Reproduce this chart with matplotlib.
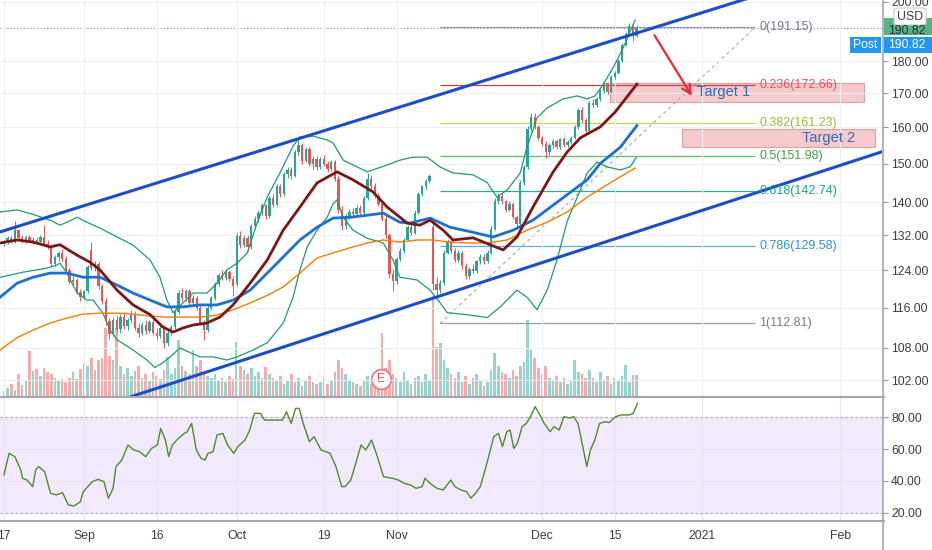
import numpy as np
import matplotlib.pyplot as plt
from matplotlib.patches import Rectangle, FancyBboxPatch
from matplotlib.ticker import FixedLocator, NullLocator, FuncFormatter

plt.rcParams['font.family'] = ['Liberation Sans', 'DejaVu Sans']

# ---- 4h candles, bar 0 = 17 Aug 2020 (two bars per trading day) ----
opens = [130.0, 130.6, 131.3, 130.5, 133.2, 131.4, 130.8, 131.5, 130.7, 131.0,
         130.4, 131.6, 130.0, 129.4, 125.5, 127.0, 127.8, 126.5, 124.0, 121.5,
         122.0, 119.3, 118.2, 119.5, 128.5, 124.6, 125.4, 120.6, 117.4, 113.3,
         110.8, 113.6, 111.8, 114.2, 112.4, 113.5, 114.8, 112.0, 110.9, 112.6,
         111.4, 113.1, 111.0, 110.4, 112.0, 108.9, 111.0, 112.2, 115.2, 119.0,
         118.0, 119.5, 117.0, 118.0, 116.0, 113.0, 111.6, 116.0, 118.0, 121.0,
         123.0, 122.4, 123.6, 122.2, 121.0, 131.8, 129.8, 131.4, 129.2, 134.2,
         136.0, 137.4, 139.2, 136.6, 141.0, 139.4, 144.0, 142.0, 147.2, 148.4,
         146.8, 153.0, 155.0, 150.8, 154.0, 150.0, 151.2, 149.0, 151.2, 150.0,
         148.6, 150.4, 146.0, 138.2, 134.2, 136.5, 137.5, 137.0, 138.6, 137.4,
         141.0, 146.0, 144.2, 141.6, 139.6, 136.0, 132.0, 123.2, 121.6, 126.5,
         128.4, 131.0, 134.0, 132.6, 137.4, 142.0, 144.0, 145.4, 134.0, 121.0,
         119.8, 121.2, 128.0, 130.6, 128.4, 126.4, 128.0, 125.0, 122.8, 124.4,
         123.8, 126.0, 127.0, 126.0, 128.0, 133.6, 140.2, 141.6, 140.2, 138.2,
         139.6, 136.4, 134.6, 145.0, 149.0, 159.6, 163.0, 160.0, 157.0, 155.4,
         153.0, 155.0, 156.0, 154.4, 156.6, 155.0, 155.8, 157.0, 160.0, 165.0,
         162.0, 159.0, 167.2, 166.4, 168.2, 170.6, 173.0, 170.4, 175.0, 176.2,
         180.2, 185.2, 189.0, 191.6, 188.4]
highs = [131.0, 131.8, 131.8, 135.5, 133.6, 132.0, 131.8, 132.0, 131.5, 131.6,
         132.0, 134.5, 130.8, 129.8, 127.5, 128.3, 128.8, 127.2, 124.5, 122.8,
         122.3, 120.0, 119.8, 125.3, 130.5, 126.0, 125.8, 121.0, 118.0, 114.0,
         114.2, 114.5, 114.8, 115.2, 114.0, 115.5, 115.3, 113.0, 113.2, 113.5,
         113.6, 113.8, 112.0, 112.6, 112.5, 111.5, 112.6, 115.6, 119.8, 120.2,
         120.0, 119.9, 118.6, 118.4, 116.5, 113.5, 116.5, 118.5, 121.5, 123.5,
         124.0, 124.2, 124.0, 122.8, 132.5, 133.0, 132.0, 132.0, 134.6, 136.6,
         138.0, 139.8, 139.6, 141.6, 142.0, 144.6, 144.6, 147.8, 149.0, 149.2,
         153.6, 156.4, 155.6, 154.6, 154.8, 152.0, 152.0, 151.8, 152.2, 150.6,
         151.0, 151.0, 146.8, 139.0, 137.0, 138.4, 138.6, 139.2, 139.4, 141.6,
         147.6, 147.0, 144.8, 142.2, 140.4, 136.8, 132.6, 124.4, 127.0, 129.0,
         131.4, 134.4, 134.8, 138.0, 142.6, 144.4, 146.0, 147.2, 135.0, 122.6,
         122.0, 128.6, 131.2, 131.0, 129.0, 128.6, 128.4, 125.6, 124.8, 125.4,
         126.4, 127.6, 127.6, 128.6, 134.2, 141.0, 142.4, 142.4, 140.6, 140.2,
         140.0, 136.8, 145.6, 149.6, 160.4, 164.2, 164.0, 160.6, 157.6, 156.0,
         155.6, 156.6, 156.8, 157.0, 157.2, 156.4, 157.6, 160.6, 165.6, 166.0,
         162.6, 167.8, 168.4, 168.8, 171.2, 173.6, 173.4, 175.6, 177.0, 180.8,
         185.8, 189.6, 192.6, 192.0, 191.8]
lows = [129.5, 130.0, 130.2, 130.2, 131.0, 130.3, 130.2, 130.4, 130.0, 130.1,
        130.0, 129.9, 128.9, 124.8, 125.0, 126.2, 126.0, 123.5, 121.0, 120.5,
        118.8, 117.5, 117.8, 119.0, 124.0, 123.8, 120.0, 116.8, 112.5, 109.8,
        110.3, 111.2, 111.0, 111.8, 111.5, 113.0, 111.5, 110.2, 110.5, 110.8,
        110.9, 110.5, 109.5, 110.0, 107.9, 108.4, 110.5, 111.8, 114.8, 117.4,
        117.5, 116.5, 116.4, 115.5, 112.6, 109.6, 111.2, 115.5, 117.6, 120.5,
        121.8, 121.9, 121.6, 118.5, 120.5, 129.0, 129.2, 128.4, 128.8, 133.6,
        135.2, 136.8, 136.0, 136.2, 138.8, 139.0, 141.4, 141.6, 146.2, 146.0,
        146.4, 152.4, 150.0, 150.4, 149.4, 148.6, 148.4, 148.6, 149.4, 147.8,
        148.0, 145.4, 137.4, 133.2, 133.6, 135.8, 136.2, 136.6, 136.8, 137.0,
        140.6, 143.4, 141.0, 139.0, 135.4, 131.4, 122.4, 119.6, 121.0, 126.0,
        127.8, 130.6, 132.0, 132.2, 137.0, 141.6, 143.4, 144.8, 119.8, 118.6,
        119.2, 120.8, 127.6, 127.8, 125.8, 125.8, 124.4, 122.2, 122.2, 123.4,
        123.4, 125.4, 125.4, 125.6, 127.6, 133.2, 139.6, 139.6, 137.6, 137.8,
        135.8, 133.6, 134.2, 144.4, 148.6, 158.8, 159.4, 156.4, 154.8, 151.4,
        152.4, 154.2, 153.8, 154.0, 154.4, 154.6, 155.2, 156.6, 159.6, 161.4,
        158.4, 158.6, 165.6, 166.0, 167.8, 170.2, 169.8, 170.0, 174.4, 175.8,
        179.8, 184.8, 188.4, 186.6, 187.8]
closes = [130.6, 131.3, 130.5, 133.2, 131.4, 130.8, 131.5, 130.7, 131.0, 130.4,
          131.6, 130.0, 129.4, 125.5, 127.0, 127.8, 126.5, 124.0, 121.5, 122.0,
          119.3, 118.2, 119.5, 124.8, 124.6, 125.4, 120.6, 117.4, 113.3, 110.8,
          113.6, 111.8, 114.2, 112.4, 113.5, 114.8, 112.0, 110.9, 112.6, 111.4,
          113.1, 111.0, 110.4, 112.0, 108.9, 111.0, 112.2, 115.2, 119.0, 118.0,
          119.5, 117.0, 118.0, 116.0, 113.0, 111.6, 116.0, 118.0, 121.0, 123.0,
          122.4, 123.6, 122.2, 120.6, 131.8, 129.8, 131.4, 129.2, 134.2, 136.0,
          137.4, 139.2, 136.6, 141.0, 139.4, 144.0, 142.0, 147.2, 148.4, 146.8,
          153.0, 155.0, 150.8, 154.0, 150.0, 151.2, 149.0, 151.2, 150.0, 148.6,
          150.4, 146.0, 138.2, 134.2, 136.5, 137.5, 137.0, 138.6, 137.4, 141.0,
          146.0, 144.2, 141.6, 139.6, 136.0, 132.0, 123.2, 121.6, 126.5, 128.4,
          131.0, 134.0, 132.6, 137.4, 142.0, 144.0, 145.4, 146.6, 121.0, 119.8,
          121.2, 128.0, 130.6, 128.4, 126.4, 128.0, 125.0, 122.8, 124.4, 123.8,
          126.0, 127.0, 126.0, 128.0, 133.6, 140.2, 141.6, 140.2, 138.2, 139.6,
          136.4, 134.6, 145.0, 149.0, 159.6, 163.0, 160.0, 157.0, 155.4, 153.0,
          155.0, 156.0, 154.4, 156.6, 155.0, 155.8, 157.0, 160.0, 165.0, 162.0,
          159.0, 167.2, 166.4, 168.2, 170.6, 173.0, 170.4, 175.0, 176.2, 180.2,
          185.2, 189.0, 191.6, 188.4, 190.8]
volume = [5, 8, 12, 6, 22, 11, 16, 45, 25, 27,
          20, 28, 24, 22, 18, 16, 17, 14, 18, 24,
          17, 27, 33, 30, 38, 26, 36, 38, 68, 40,
          36, 68, 30, 22, 28, 20, 25, 30, 18, 22,
          15, 24, 20, 17, 26, 39, 22, 28, 56, 30,
          25, 22, 46, 30, 36, 24, 20, 18, 22, 15,
          18, 14, 20, 17, 54, 30, 26, 22, 28, 20,
          24, 18, 29, 22, 18, 15, 20, 12, 16, 22,
          14, 18, 10, 16, 20, 14, 12, 14, 18, 12,
          16, 24, 36, 28, 22, 16, 14, 12, 10, 16,
          20, 12, 14, 18, 63, 28, 36, 22, 18, 14,
          24, 16, 12, 18, 20, 14, 22, 16, 100, 49,
          53, 36, 28, 22, 18, 24, 14, 20, 12, 18,
          22, 16, 10, 14, 26, 43, 30, 24, 22, 18,
          26, 20, 30, 34, 76, 46, 38, 28, 22, 30,
          18, 16, 20, 14, 18, 12, 16, 36, 24, 22,
          18, 26, 18, 14, 24, 16, 20, 12, 18, 16,
          20, 31, 14, 21, 21]

# moving averages / bands (bar, price)
ma_fast_bar = [-1, 3.6, 8, 12.7, 15.4, 20.1, 23.7, 26.4, 31.1, 35.5, 40.2, 43.7, 46.5, 49.2, 52,
               55.8, 59.4, 63, 67.7, 72.4, 76.8, 81.4, 86.1, 91.6, 96, 101.5, 105.4, 110.9, 114.4,
               117.2, 120.8, 123.5, 129, 133.7, 137.3, 141.1, 145.5, 151, 154.9, 158.5, 164, 168.1, 174.1]
ma_fast_val = [130.2, 130.9, 130.4, 129.3, 129.8, 127.4, 125.8, 124.1, 119.7, 116.6, 114.6, 112.1, 111.1,
               111.9, 112.5, 112.9, 114.1, 116.6, 121.2, 126.3, 133.2, 138.8, 144.9, 147.8, 145.7, 142.6,
               138.8, 134.9, 134.4, 135.6, 133.2, 130.9, 131.4, 129.8, 128.6, 131.6, 138.8, 147.7, 153.1,
               157.0, 160.1, 164.4, 172.8]
ma_mid_bar = [-1.1, 3.6, 8, 12.7, 17.3, 21.7, 26.4, 31.1, 35.5, 40.2, 44.8, 49.2, 53.9, 58.6, 63, 67.7,
              72.4, 76.8, 81.4, 86.1, 90.5, 95.2, 99.9, 104.3, 108.9, 111.7, 117.2, 122.7, 129, 134.5,
              140, 145.5, 153, 160.4, 164, 169.5, 174.1]
ma_mid_val = [118.2, 121.2, 122.5, 123.4, 123.4, 122.5, 122.5, 120.8, 119.1, 117.6, 116.2, 116.2, 116.6,
              116.6, 117.6, 119.7, 123.4, 127.0, 130.9, 133.9, 136.1, 136.3, 136.8, 137.3, 135.1, 134.9,
              136.1, 133.9, 132.7, 131.6, 133.2, 135.6, 140.6, 145.7, 150.0, 154.4, 160.5]
ma_slow_bar = [-1.1, 3.6, 8, 12.7, 17.3, 21.7, 26.4, 31.1, 35.5, 40.2, 44.8, 49.2, 53.9, 58.6, 63, 67.7,
               72.4, 76.8, 81.4, 86.1, 90.5, 95.2, 99.9, 104.3, 108.9, 113.6, 118, 122.7, 127.4, 132.9,
               138.4, 143.9, 149.4, 154.9, 160.4, 166.7, 173.6]
ma_slow_val = [107.6, 110.0, 111.5, 112.9, 113.9, 114.7, 114.9, 114.9, 114.7, 114.3, 114.1, 114.1, 114.1,
               114.5, 115.6, 117.0, 118.6, 120.4, 123.4, 126.8, 127.9, 129.1, 130.2, 130.9, 130.4, 130.9,
               130.9, 130.4, 130.2, 130.2, 130.9, 133.2, 135.1, 137.6, 141.3, 144.9, 148.8]
bb_up_bar = [-1, 3.6, 8, 12.7, 15.4, 17.3, 20.1, 22.8, 26.4, 31.1, 35.5, 40.2, 42.9, 44.8, 46.5, 49.2,
             52, 55.8, 58.6, 61.3, 64.1, 66.9, 69.6, 72.4, 75.9, 79.5, 81.4, 85, 88.9, 90.5, 93.3, 99.9,
             105.4, 108.9, 112.5, 116.4, 119.9, 123.5, 129, 132.9, 135.6, 138.4, 142, 143.9, 145.5,
             146.6, 149.4, 153.8, 157.7, 160.4, 162.6, 164.8, 167.5, 170.3, 173.6]
bb_up_val = [137.6, 138.1, 137.0, 135.6, 134.4, 135.1, 136.3, 135.1, 133.7, 131.6, 129.7, 126.3, 122.5,
             117.6, 115.0, 117.0, 119.1, 119.1, 121.2, 124.1, 125.6, 127.9, 134.9, 141.3, 147.5, 154.7,
             157.3, 157.5, 156.4, 155.6, 150.9, 147.8, 149.6, 150.9, 151.7, 151.7, 149.1, 147.5, 147.0,
             145.0, 141.3, 143.1, 147.5, 154.7, 159.2, 162.7, 165.6, 168.3, 169.2, 168.3, 169.2, 172.7,
             177.8, 184.3, 193.7]
bb_lo_bar = [-1, 5.2, 11.8, 14.6, 15.4, 17.3, 20.1, 22.8, 24.5, 27.2, 29.2, 31.1, 35.5, 39.3, 41.5,
             43.7, 45.7, 48.4, 51.2, 53.9, 57.5, 61.3, 64.1, 68.5, 72.4, 76.8, 79.5, 81.4, 83.4, 86.1,
             88.9, 90.5, 91.6, 93.3, 96, 99.9, 104.3, 107, 108.9, 113.6, 117.2, 120, 121.9, 127.4,
             132.9, 136.5, 141.1, 143.9, 146.6, 149.4, 152.1, 154.9, 157.7, 160.4, 163.2, 165.9,
             169.5, 172.2, 173.9]
bb_lo_val = [122.5, 123.6, 124.5, 125.2, 125.6, 123.4, 119.1, 117.6, 117.6, 114.9, 111.5, 109.6, 107.6,
             105.7, 104.3, 105.2, 106.3, 108.0, 107.1, 106.3, 106.3, 105.7, 106.3, 107.6, 109.0, 112.9,
             118.2, 124.1, 129.3, 133.2, 136.3, 139.6, 140.6, 136.3, 133.2, 131.3, 130.2, 126.3, 122.5,
             121.9, 119.7, 117.0, 115.0, 114.6, 114.0, 116.2, 119.7, 118.2, 115.6, 119.7, 126.3, 135.3,
             141.3, 147.5, 150.4, 149.1, 148.3, 149.1, 151.6]

rsi_bar = [0, 1.4, 3, 4.6, 5.1, 6.3, 7.9, 8.7, 9.5, 11.2, 12.8, 14.4, 16.1, 17.7, 19.3, 21, 21.8, 24.3,
           25.9, 27.5, 28.7, 30, 30.8, 32.4, 34.1, 35.7, 37.3, 39, 40.6, 42.2, 43.1, 44.4, 45.3, 46.3,
           48, 49.6, 50.4, 51.6, 52.9, 54.2, 55.3, 56.1, 57.5, 58.6, 60.2, 61.5, 63.2, 64.3, 66.3, 67.6,
           68.9, 70.5, 71.7, 74.1, 76.6, 77.7, 79, 80.2, 81.2, 82.3, 84, 85.3, 87.2, 89.7, 91.3, 92.9,
           93.8, 95.4, 97, 98.2, 99.5, 101.1, 102.4, 104.4, 106.8, 108.5, 110.1, 111.8, 113.4, 115,
           115.8, 117.2, 119.1, 120.8, 122.9, 124, 125.7, 127.3, 128.4, 129.7, 131, 132.2, 133.3,
           134.7, 136, 137.1, 138.3, 139.2, 140.2, 141.2, 142.5, 143.7, 144.8, 146.1, 147.4, 148.6,
           150.2, 151.3, 152.7, 154, 155.6, 156.7, 157.9, 159.2, 160.3, 161.3, 162.5, 163.8, 165.4,
           166.5, 168.2, 169.8, 171.9, 173.1, 174.2]
rsi_val = [43.8, 57.3, 55.2, 46.9, 41.7, 40.6, 36.5, 46.9, 49.0, 45.8, 32.3, 31.3, 32.7, 25.0, 24.4,
           27.0, 33.3, 39.6, 41.0, 39.6, 29.2, 35.4, 49.0, 53.1, 62.5, 59.4, 58.3, 55.2, 60.4, 62.5,
           72.9, 65.6, 55.2, 62.5, 66.7, 69.8, 70.8, 76.0, 59.4, 54.2, 53.1, 57.3, 58.3, 68.8, 69.8,
           62.5, 57.3, 61.5, 65.6, 71.9, 82.3, 82.3, 78.1, 78.1, 78.1, 83.3, 76.0, 85.4, 85.4, 76.0,
           64.6, 67.7, 59.4, 57.3, 49.0, 36.5, 36.5, 40.6, 53.1, 62.5, 59.4, 65.6, 57.3, 42.7, 41.7,
           40.6, 38.5, 37.5, 35.4, 36.5, 41.7, 38.5, 35.4, 34.4, 40.6, 36.5, 34.4, 33.3, 29.2, 32.3,
           36.5, 45.8, 55.2, 67.7, 69.8, 61.5, 70.8, 71.9, 60.4, 63.5, 74.0, 76.0, 80.2, 86.5, 81.3,
           76.0, 70.8, 74.0, 71.9, 80.2, 79.4, 80.2, 76.0, 61.5, 49.0, 59.4, 65.6, 76.0, 77.1, 76.5,
           80.2, 81.3, 81.3, 82.3, 88.5]

# drawings
chan_up_bar, chan_up_val = [-3.85, 246.5], [132.05, 219.1]
chan_lo_bar, chan_lo_val = [26.4, 246.5], [97.25, 154.8]
fib_labels = ['0(191.15)', '0.236(172.66)', '0.382(161.23)', '0.5(151.98)',
              '0.618(142.74)', '0.786(129.58)', '1(112.81)']
fib_prices = [191.15, 172.66, 161.23, 151.98, 142.74, 129.58, 112.81]
fib_line_colors = ['#9a9ca3', '#c0453f', '#c2d64a', '#5cbf5a', '#2bb08f', '#5aa9e6', '#9a9ca3']
fib_text_colors = ['#787b86', '#e0555a', '#9fb83a', '#3fa044', '#1aa587', '#2f8fd8', '#787b86']
fib_start, fib_end = 119.9, 206.6
target1 = (166.7, 236.6, 167.3, 173.1)
target2 = (186.5, 239.6, 154.5, 159.5)
arrow_from, arrow_to = (178.5, 189.3), (189.6, 168.5)
earnings_bar = 103.7
last_price = 190.82

# 190 sits under the last-price label on the original scale, so it is left out
price_ticks = [102, 108, 116, 124, 132, 140, 150, 160, 170, 180, 200]
rsi_ticks = [20, 40, 60, 80]
date_bars = [0, 22, 42, 64, 88, 108, 148, 168, 192, 230]
date_labels = ['17', 'Sep', '16', 'Oct', '19', 'Nov', 'Dec', '15', '2021', 'Feb']

W, H = 932, 550
FS = 8.8
fig = plt.figure(figsize=(W / 100, H / 100), dpi=100, facecolor='white')


def fbox(x0, y0, x1, y1):
    return [x0 / W, 1 - y1 / H, (x1 - x0) / W, (y1 - y0) / H]


ax = fig.add_axes(fbox(0, 0, 882, 396))
rax = fig.add_axes(fbox(0, 398, 882, 520), sharex=ax)
vax = ax.twinx()
ax.set_zorder(vax.get_zorder() + 1)
ax.patch.set_visible(False)

o, h, l, c = map(np.array, (opens, highs, lows, closes))
h = np.maximum(h, np.maximum(o, c))
l = np.minimum(l, np.minimum(o, c))
idx = np.arange(len(c))
up = c >= o
col = np.where(up, '#26a69a', '#ef5350')

# volume
vax.bar(idx, volume, width=0.72, color=np.where(up, '#93d4cc', '#f6aaa9'), linewidth=0)
vax.set_ylim(0, 396)
vax.axis('off')
vax.scatter([earnings_bar], [17], s=200, facecolor='white', edgecolor='#f07585', lw=1.3, zorder=5)
vax.text(earnings_bar, 17, 'E', color='#e04a5f', fontsize=8.5, ha='center', va='center', zorder=6)

# candles
ax.vlines(idx, l, h, colors=col, lw=0.7, zorder=2)
ax.bar(idx, np.maximum(np.abs(c - o), 0.15), bottom=np.minimum(o, c), width=0.64,
       color=col, linewidth=0, zorder=2.1)

ax.plot(bb_up_bar, bb_up_val, color='#1f9b6c', lw=0.9, zorder=2.5)
ax.plot(bb_lo_bar, bb_lo_val, color='#1f9b6c', lw=0.9, zorder=2.5)
ax.plot(ma_slow_bar, ma_slow_val, color='#f57c00', lw=1.0, zorder=2.6)
ax.plot(ma_mid_bar, ma_mid_val, color='#1f6fd0', lw=2.0, zorder=2.7)
ax.plot(ma_fast_bar, ma_fast_val, color='#7a1616', lw=2.0, zorder=2.8)
ax.plot(chan_up_bar, chan_up_val, color='#1a4dc9', lw=2.2, zorder=4)
ax.plot(chan_lo_bar, chan_lo_val, color='#1a4dc9', lw=2.2, zorder=4)

# fib retracement
for lab, p, lc, tc in zip(fib_labels, fib_prices, fib_line_colors, fib_text_colors):
    ax.hlines(p, fib_start, fib_end, color=lc, lw=0.9, zorder=1.5)
    ax.text(fib_end + 1.1, p, lab, color=tc, fontsize=9, va='center', ha='left', zorder=5)
ax.plot([fib_start, fib_end], [fib_prices[-1], fib_prices[0]], color='#a6a8ae',
        ls=(0, (3, 3)), lw=0.8, zorder=1.5)
ax.axhline(last_price, color='#5b9bd5', ls=(0, (1, 2)), lw=0.8, zorder=1.4)

for (x0, x1, p0, p1), name, tx, ty in [(target1, 'Target 1', 190.6, 170.4),
                                        (target2, 'Target 2', 219.5, 157.0)]:
    ax.add_patch(Rectangle((x0, p0), x1 - x0, p1 - p0, facecolor='#f6c9cb',
                           edgecolor='#d8a1a4', lw=0.8, zorder=1.45))
    ax.text(tx, ty, name, color='#2d6cc0', fontsize=10.5, va='center', ha='left', zorder=5)

ax.annotate('', xy=arrow_to, xytext=arrow_from,
            arrowprops=dict(arrowstyle='->', color='#ef2a2f', lw=1.6, mutation_scale=16),
            zorder=5)

ax.set_yscale('log')
ax.set_ylim(99.14, 200.71)
ax.set_xlim(-1.1, 241.5)
ax.yaxis.set_major_locator(FixedLocator(price_ticks))
ax.yaxis.set_minor_locator(NullLocator())
ax.yaxis.set_major_formatter(FuncFormatter(lambda v, p: f'{v:.2f}'))
ax.yaxis.tick_right()
ax.set_xticks(date_bars)
ax.grid(True, color='#eef0f4', lw=0.8, zorder=0)
ax.tick_params(axis='x', length=0, labelbottom=False)
ax.tick_params(axis='y', length=4, color='#9598a1', labelsize=FS, labelcolor='#3a3d45', pad=2.5)
for s in ax.spines.values():
    s.set_visible(False)

# RSI
rax.axhspan(20, 80, color='#f3e9fd', zorder=0, lw=0)
rax.set_yticks(rsi_ticks)
rax.yaxis.set_major_formatter(FuncFormatter(lambda v, p: f'{v:.2f}'))
rax.yaxis.tick_right()
rax.grid(True, color='#e9e4ef', lw=0.8)
for lv in (20, 80):
    rax.axhline(lv, color='#b7b0c2', ls=(0, (2, 2)), lw=0.9)
rax.plot(rsi_bar, rsi_val, color='#4b8b2b', lw=1.0, zorder=3)
rax.set_ylim(15.6, 91.9)
rax.set_xticks(date_bars)
rax.set_xticklabels(date_labels)
rax.tick_params(axis='x', length=0, pad=7.5, labelsize=FS, labelcolor='#3a3d45')
rax.tick_params(axis='y', length=4, color='#9598a1', labelsize=FS, labelcolor='#3a3d45', pad=2.5)
for s in rax.spines.values():
    s.set_visible(False)

# panel borders
fig.add_artist(plt.Line2D([0, 884 / W], [1 - 397 / H] * 2, color='#a3a6ad', lw=1.5))
fig.add_artist(plt.Line2D([0, 884 / W], [1 - 520.5 / H] * 2, color='#a3a6ad', lw=1.5))
fig.add_artist(plt.Line2D([883 / W] * 2, [0, 1], color='#a3a6ad', lw=1.2))


def fig_rect(x0, y0, x1, y1, **kw):
    fig.add_artist(Rectangle((x0 / W, 1 - y1 / H), (x1 - x0) / W, (y1 - y0) / H,
                             transform=fig.transFigure, **kw))


# price-scale labels (green close label sits under the currency box)
fig_rect(884, 18, 932, 35, facecolor='#52b584', lw=0)
fig.text(907 / W, 1 - 30.5 / H, f'{last_price:.2f}', color='#2a2e39', fontsize=FS,
         ha='center', va='center')
fig.add_artist(FancyBboxPatch((894 / W, 1 - 25 / H), 32 / W, 17 / H,
                              boxstyle='round,pad=0,rounding_size=0.004',
                              transform=fig.transFigure, facecolor='white',
                              edgecolor='#c5c8cf', lw=0.8))
fig.text(910 / W, 1 - 16.5 / H, 'USD', color='#3a3d45', fontsize=FS, ha='center', va='center')
fig_rect(850, 37, 881, 53, facecolor='#2196f3', lw=0)
fig.text(865.5 / W, 1 - 45 / H, 'Post', color='white', fontsize=FS, ha='center', va='center')
fig_rect(884, 37, 932, 53, facecolor='#2196f3', lw=0)
fig.text(907 / W, 1 - 45 / H, f'{last_price:.2f}', color='white', fontsize=FS,
         ha='center', va='center')

fig.savefig('out.png', dpi=100, facecolor='white')
